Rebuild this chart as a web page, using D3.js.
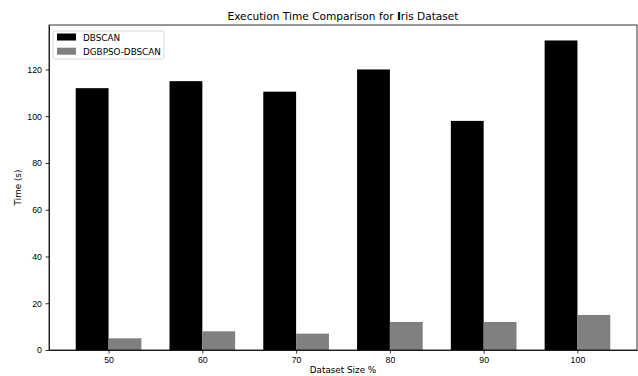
<!DOCTYPE html>
<html>
<head>
<meta charset="utf-8">
<script src="https://cdn.jsdelivr.net/npm/d3@7"></script>
<style>
  body { margin: 0; background: #fff; }
  svg { font-family: "DejaVu Sans", sans-serif; }
  .axis text { font-size: 8.8px; fill: #000; }
  .axis path, .axis line { stroke: #000; stroke-width: 0.8; }
</style>
</head>
<body>
<div id="chart"></div>
<script>
// dataset sizes and timings
const categories = ["50", "60", "70", "80", "90", "100"];
const dbscan = [112, 115, 110.5, 120, 98, 132.4];
const dgbpso = [5, 8, 7, 12, 12, 15];
const seriesNames = ["DBSCAN", "DGBPSO-DBSCAN"];
const seriesColors = ["#000000", "#808080"];
const yTicks = [0, 20, 40, 60, 80, 100, 120];

const W = 638, H = 376;
const margin = { top: 25, right: 1, bottom: 26, left: 49 };
const width = W - margin.left - margin.right;
const height = H - margin.top - margin.bottom;
const barW = 0.35;

const svg = d3.select("#chart").append("svg")
  .attr("width", W)
  .attr("height", H);

const g = svg.append("g")
  .attr("transform", `translate(${margin.left}, ${margin.top})`);

// matplotlib style linear x with 5% margins
const lo = -barW, hi = categories.length - 1 + barW;
const pad = (hi - lo) * 0.05;
const x = d3.scaleLinear().domain([lo - pad, hi + pad]).range([0, width]);
const yMax = d3.max(dbscan.concat(dgbpso)) * 1.05;
const y = d3.scaleLinear().domain([0, yMax]).range([height, 0]);

const series = [dbscan, dgbpso];
series.forEach((vals, s) => {
  g.selectAll(".bar-" + s)
    .data(vals)
    .enter()
    .append("rect")
    .attr("class", "bar-" + s)
    .attr("x", (d, i) => x(i + (s === 0 ? -barW : 0)))
    .attr("y", d => y(d))
    .attr("width", x(barW) - x(0))
    .attr("height", d => height - y(d))
    .attr("fill", seriesColors[s]);
});

g.append("g")
  .attr("class", "axis")
  .attr("transform", `translate(0, ${height})`)
  .call(d3.axisBottom(x)
    .tickValues(d3.range(categories.length))
    .tickFormat(i => categories[i])
    .tickSize(3.5).tickPadding(3.5).tickSizeOuter(0));

g.append("g")
  .attr("class", "axis")
  .call(d3.axisLeft(y)
    .tickValues(yTicks)
    .tickSize(3.5).tickPadding(3.5).tickSizeOuter(0));

// frame
g.append("rect")
  .attr("width", width)
  .attr("height", height)
  .attr("fill", "none")
  .attr("stroke", "#000")
  .attr("stroke-width", 0.8);

const title = svg.append("text")
  .attr("x", margin.left + width / 2)
  .attr("y", 20)
  .attr("text-anchor", "middle")
  .attr("font-size", 10.6);
title.append("tspan").text("Execution Time Comparison for ");
title.append("tspan").attr("font-weight", "bold").text("I");
title.append("tspan").text("ris Dataset");

svg.append("text")
  .attr("x", margin.left + width / 2)
  .attr("y", 373)
  .attr("text-anchor", "middle")
  .attr("font-size", 8.8)
  .text("Dataset Size %");

svg.append("text")
  .attr("transform", `translate(21, ${margin.top + height / 2}) rotate(-90)`)
  .attr("text-anchor", "middle")
  .attr("font-size", 8.8)
  .text("Time (s)");

// legend
const leg = g.append("g").attr("transform", "translate(4, 6)");
leg.append("rect")
  .attr("width", 111)
  .attr("height", 28)
  .attr("rx", 2)
  .attr("fill", "#fff")
  .attr("fill-opacity", 0.8)
  .attr("stroke", "#ccc")
  .attr("stroke-width", 0.8);
seriesNames.forEach((name, i) => {
  leg.append("rect")
    .attr("x", 4)
    .attr("y", 2.5 + i * 14.2)
    .attr("width", 19)
    .attr("height", 7)
    .attr("fill", seriesColors[i]);
  leg.append("text")
    .attr("x", 30)
    .attr("y", 9.5 + i * 14.2)
    .attr("font-size", 8.8)
    .text(name);
});
</script>
</body>
</html>
